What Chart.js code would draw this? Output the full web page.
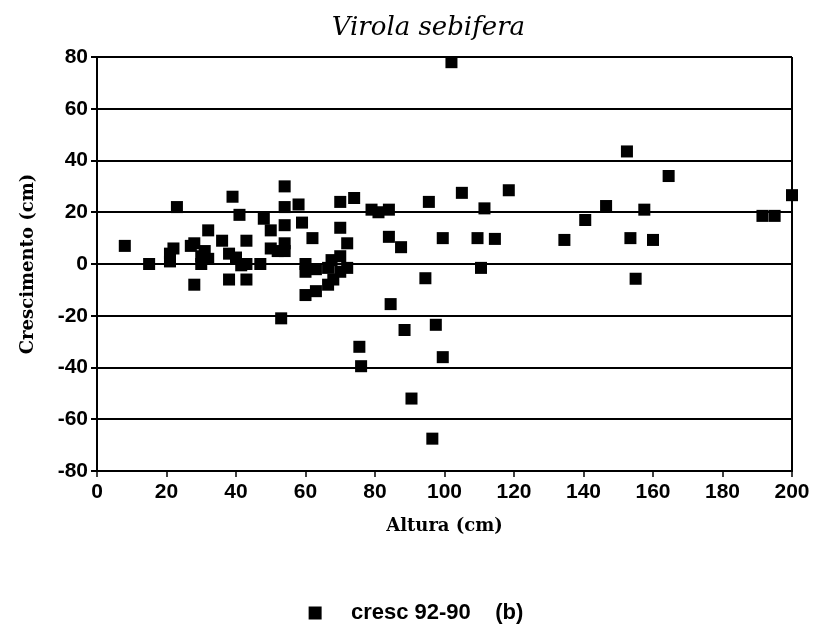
<!DOCTYPE html>
<html>
<head>
<meta charset="utf-8">
<script src="https://cdn.jsdelivr.net/npm/chart.js@4/dist/chart.umd.min.js"></script>
<style>
  html, body { margin: 0; padding: 0; background: #fff; }
  canvas { display: block; }
</style>
</head>
<body>
<canvas id="chart" width="819" height="636"></canvas>
<script>
// Virola sebifera: growth 92-90 against height
const altura = [
  8, 15, 21, 21, 22, 23,
  27, 28, 28, 30, 30, 32, 32, 31,
  36, 38, 38, 39, 40, 41, 41.5, 43, 43, 43,
  47, 48, 50, 50, 52, 53,
  54, 54, 54, 54, 54,
  58, 59, 60, 60, 60, 62, 63, 63, 66.5, 66.5, 67.5, 68,
  70, 70, 70, 70, 72, 72, 74, 75.5, 76,
  79, 81, 84, 84, 84.5, 87.5, 88.5, 90.5, 94.5, 95.5, 96.5, 97.5, 99.5, 99.5, 102,
  105, 109.5, 110.5, 111.5, 114.5, 118.5, 134.5, 140.5, 146.5, 152.5, 153.5, 155, 157.5, 160, 164.5, 191.5, 195, 200
];
const crescimento = [
  7, 0, 4, 1, 6, 22,
  7, 8, -8, 3, 0, 2, 13, 5,
  9, 4, -6, 26, 2.5, 19, -0.5, 9, -6, 0,
  0, 17.5, 13, 6, 5, -21,
  30, 22, 15, 8, 5,
  23, 16, 0, -3, -12, 10, -2, -10.5, -1.5, -8, 1.5, -6,
  24, 14, 3, -3, 8, -1.5, 25.5, -32, -39.5,
  21, 20, 21, 10.5, -15.5, 6.5, -25.5, -52, -5.5, 24, -67.5, -23.5, 10, -36, 78,
  27.5, 10, -1.5, 21.5, 9.7, 28.5, 9.3, 17, 22.4, 43.5, 10, -5.7, 21, 9.3, 34, 18.6, 18.6, 26.6
];
const seriesLabel = 'cresc 92-90    (b)';
const titleText = 'Virola sebifera';
const xTitle = 'Altura (cm)';
const yTitle = 'Crescimento (cm)';

const points = altura.map((x, i) => ({ x: x, y: crescimento[i] }));

const tickFont = { family: 'Liberation Sans', size: 21, weight: 'bold' };
const axisTitleFont = { family: 'DejaVu Serif', size: 18, weight: 'bold' };

new Chart(document.getElementById('chart'), {
  type: 'scatter',
  data: {
    datasets: [{
      label: '   ' + seriesLabel,
      data: points,
      pointStyle: 'rect',
      pointRadius: 8.5,
      pointHoverRadius: 8.5,
      backgroundColor: '#000',
      borderColor: '#000',
      borderWidth: 0,
      clip: false
    }]
  },
  options: {
    responsive: false,
    animation: false,
    events: [],
    layout: { padding: { left: 40, right: 27, top: 0, bottom: 2 } },
    plugins: {
      title: {
        display: true,
        // leading spaces nudge the centred title to the right, as in the original
        text: '   ' + titleText,
        color: '#000',
        font: { family: 'DejaVu Serif', size: 26, style: 'italic', weight: 'normal' },
        padding: { top: 13, bottom: 12.8 }
      },
      legend: {
        position: 'bottom',
        labels: {
          color: '#000',
          boxWidth: 13,
          boxHeight: 13,
          padding: 10,
          font: { family: 'Liberation Sans', size: 22, weight: 'bold' }
        }
      },
      tooltip: { enabled: false }
    },
    scales: {
      x: {
        type: 'linear',
        min: 0,
        max: 200,
        afterFit: (scale) => { scale.height = 121; },
        ticks: { stepSize: 20, color: '#000', font: tickFont, padding: 3, maxRotation: 0 },
        grid: {
          drawOnChartArea: true,
          color: (ctx) => (ctx.tick && ctx.tick.value === 200 ? '#000' : 'rgba(0,0,0,0)'),
          lineWidth: 2,
          tickColor: '#000',
          tickLength: 6,
          tickWidth: 1.5
        },
        border: { color: '#000', width: 2 },
        title: {
          display: true,
          text: xTitle,
          color: '#000',
          font: axisTitleFont,
          padding: { top: 0, bottom: 55 }
        }
      },
      y: {
        min: -80,
        max: 80,
        afterFit: (scale) => { scale.width = 57; },
        ticks: { stepSize: 20, color: '#000', font: tickFont, padding: 3 },
        grid: {
          color: '#000',
          lineWidth: 2,
          tickColor: '#000',
          tickLength: 6
        },
        border: { color: '#000', width: 2 },
        title: {
          display: true,
          text: yTitle,
          color: '#000',
          font: axisTitleFont,
          padding: { top: -22.8, bottom: 0 }
        }
      }
    }
  }
});
</script>
</body>
</html>
